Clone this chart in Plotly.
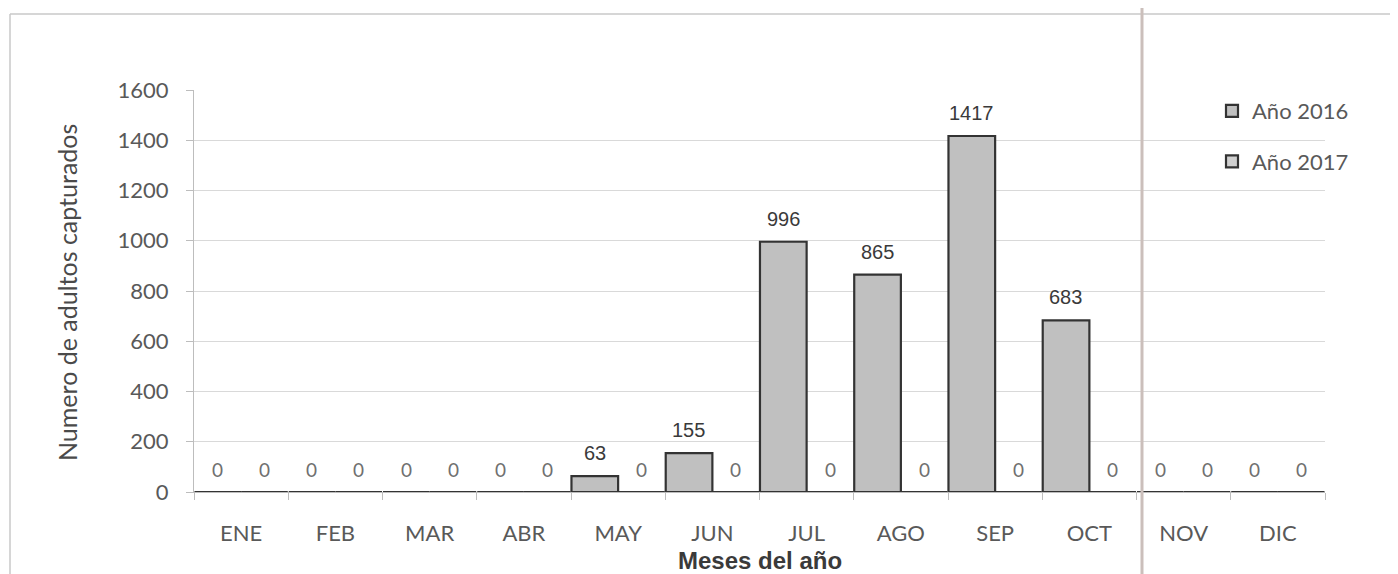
import plotly.graph_objects as go

meses = ["ENE", "FEB", "MAR", "ABR", "MAY", "JUN", "JUL", "AGO", "SEP", "OCT", "NOV", "DIC"]
anio_2016 = [0, 0, 0, 0, 63, 155, 996, 865, 1417, 683, 0, 0]
anio_2017 = [0, 0, 0, 0, 0, 0, 0, 0, 0, 0, 0, 0]
y_ticks = [0, 200, 400, 600, 800, 1000, 1200, 1400, 1600]

OFF = 8  # page body margin
W, H = 1398, 574
# plot area in screenshot pixels: x 194..1325, y 90..492
ML = 194 - OFF
MR = W - (1325 - OFF)
MT = 90 - OFF
MB = H - (492 - OFF)
pw = W - ML - MR
ph = H - MT - MB


def px_x(p):
    return (p - OFF - ML) / pw


def px_y(p):
    return (H - MB - (p - OFF)) / ph


fig = go.Figure()
fig.add_trace(go.Bar(
    name="Año 2016", x=meses, y=anio_2016, legendgroup="a",
    marker=dict(color="#c0c0c0", line=dict(color="#333333", width=2.2)),
))
fig.add_trace(go.Bar(
    name="Año 2017", x=meses, y=anio_2017, legendgroup="b",
    marker=dict(color="#d0d0d0", line=dict(color="#333333", width=2.2)),
))

# data labels
half = pw / len(meses) / 4
annotations = []
for serie, shift in ((anio_2016, -half), (anio_2017, half)):
    for m, v in zip(meses, serie):
        if v > 0:
            font = dict(family="Liberation Sans, Arial", size=20, color="#3a3a3a")
        else:
            font = dict(family="Lato", size=19, color="#707070")
        annotations.append(dict(
            x=m, y=v, xref="x", yref="y", text=str(v), showarrow=False,
            xshift=shift, yshift=23, xanchor="center", yanchor="middle", font=font,
        ))

annotations.append(dict(
    text="Numero de adultos capturados", xref="paper", yref="paper",
    x=px_x(67), y=px_y(293), textangle=-90, showarrow=False,
    xanchor="center", yanchor="middle",
    font=dict(family="Lato", size=25, color="#4a4a4a"),
))
annotations.append(dict(
    text="<b>Meses del año</b>", xref="paper", yref="paper",
    x=px_x(760), y=px_y(560), showarrow=False,
    xanchor="center", yanchor="middle",
    font=dict(family="Liberation Sans, Arial", size=24, color="#3a3a3a"),
))

shapes = [
    # outer frame (left and top edges)
    dict(type="line", xref="paper", yref="paper", x0=px_x(10), x1=px_x(10),
         y0=px_y(14), y1=px_y(600), line=dict(color="#c8c8c8", width=1.5)),
    dict(type="line", xref="paper", yref="paper", x0=px_x(10), x1=px_x(1420),
         y0=px_y(14), y1=px_y(14), line=dict(color="#c8c8c8", width=1.5)),
    # scan fold line
    dict(type="line", xref="paper", yref="paper", x0=px_x(1142), x1=px_x(1142),
         y0=px_y(-10), y1=px_y(600), line=dict(color="#cbbfbb", width=3)),
]

fig.update_layout(
    width=W, height=H,
    margin=dict(l=ML, r=MR, t=MT, b=MB),
    paper_bgcolor="white", plot_bgcolor="white",
    barmode="group", bargap=0.01, bargroupgap=0,
    font=dict(family="Lato", color="#595959"),
    showlegend=True,
    legend=dict(
        x=px_x(1212), y=px_y(90), xanchor="left", yanchor="top",
        traceorder="grouped", tracegroupgap=19, itemwidth=30,
        font=dict(family="Lato", size=22, color="#595959"),
        bgcolor="rgba(0,0,0,0)",
    ),
    annotations=annotations,
    shapes=shapes,
)
fig.update_xaxes(
    type="category", tickson="boundaries", ticks="outside", ticklen=7,
    tickcolor="#bdbdbd", showline=True, linecolor="#bdbdbd", linewidth=1,
    tickfont=dict(family="Lato", size=22, color="#595959"),
    ticklabelstandoff=22, showgrid=False,
)
fig.update_yaxes(
    range=[0, 1600], tickvals=y_ticks, ticks="outside", ticklen=7,
    tickcolor="#bdbdbd", showline=True, linecolor="#bdbdbd", linewidth=1,
    gridcolor="#d9d9d9", gridwidth=1,
    tickfont=dict(family="Lato", size=22, color="#595959"),
    ticklabelstandoff=13, zeroline=False,
)

fig.write_html("out.html")
